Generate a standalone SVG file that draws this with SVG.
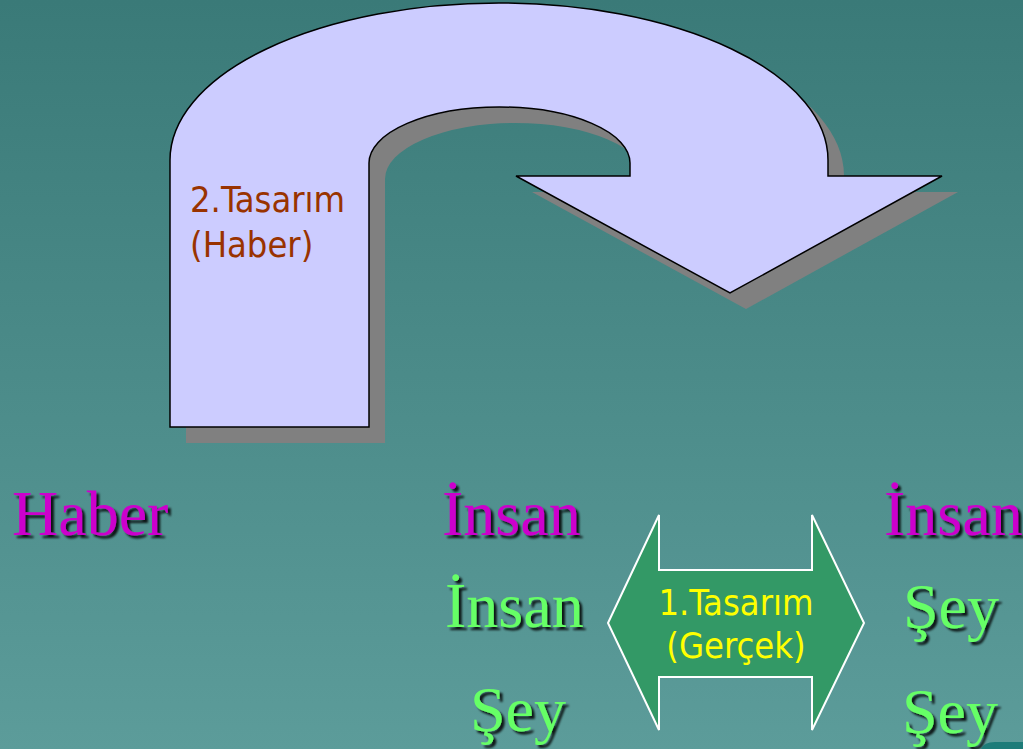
<svg xmlns="http://www.w3.org/2000/svg" width="1023" height="749" viewBox="0 0 1023 749">
  <defs>
    <linearGradient id="bg" x1="0" y1="0" x2="0" y2="1">
      <stop offset="0" stop-color="#3a7a78"/>
      <stop offset="1" stop-color="#5c9c9a"/>
    </linearGradient>
    <filter id="tshadow" x="-10%" y="-20%" width="130%" height="150%">
      <feDropShadow dx="3" dy="3" stdDeviation="1.3" flood-color="#000" flood-opacity="0.85"/>
    </filter>
    <path id="uturn" d="M170,427 L170,160 A329,157 0 0 1 828,160 L828,176 L942,176 L730,293 L516,176 L630,176 L630,163 A130.5,56 0 0 0 369,163 L369,427 Z"/>
  </defs>
  <style>
    .big { font-family: "Liberation Serif", "Times New Roman", serif; font-size: 64px; filter: url(#tshadow); }
    .mag { fill: #cc00cc; }
    .grn { fill: #66ff66; }
    .lbl { font-family: "DejaVu Sans Condensed", "DejaVu Sans", sans-serif; font-size: 36px; }
  </style>
  <rect x="0" y="0" width="1023" height="749" fill="url(#bg)"/>

  <g id="arrow-2-tasarim">
    <use href="#uturn" transform="translate(16,16)" fill="#808080"/>
    <use href="#uturn" fill="#ccccff" stroke="#000" stroke-width="1.5" stroke-linejoin="miter"/>
    <text class="lbl" x="190" y="212" fill="#993300">2.Tasarım</text>
    <text class="lbl" x="190" y="257" fill="#993300">(Haber)</text>
  </g>

  <g id="arrow-1-tasarim">
    <polygon points="608,623 659,515 659,570 812,570 812,515 864,623 812,730 812,677 659,677 659,730" fill="#339966" stroke="#ffffff" stroke-width="2"/>
    <text class="lbl" x="736" y="615" fill="#ffff00" text-anchor="middle">1.Tasarım</text>
    <text class="lbl" x="736" y="658" fill="#ffff00" text-anchor="middle">(Gerçek)</text>
  </g>

  <g id="haber">
    <text class="big mag" x="12" y="535">Haber</text>
  </g>
  <g id="col-left">
    <text class="big mag" x="442" y="535">İnsan</text>
    <text class="big grn" x="445" y="627">İnsan</text>
    <text class="big grn" x="470" y="731">Şey</text>
  </g>
  <g id="col-right">
    <text class="big mag" x="884" y="535">İnsan</text>
    <text class="big grn" x="903" y="628">Şey</text>
    <text class="big grn" x="902" y="733">Şey</text>
  </g>

  <path d="M981,749 Q984,742 995,742 L1023,742 L1023,749 Z" fill="#1d7c79"/>
</svg>
